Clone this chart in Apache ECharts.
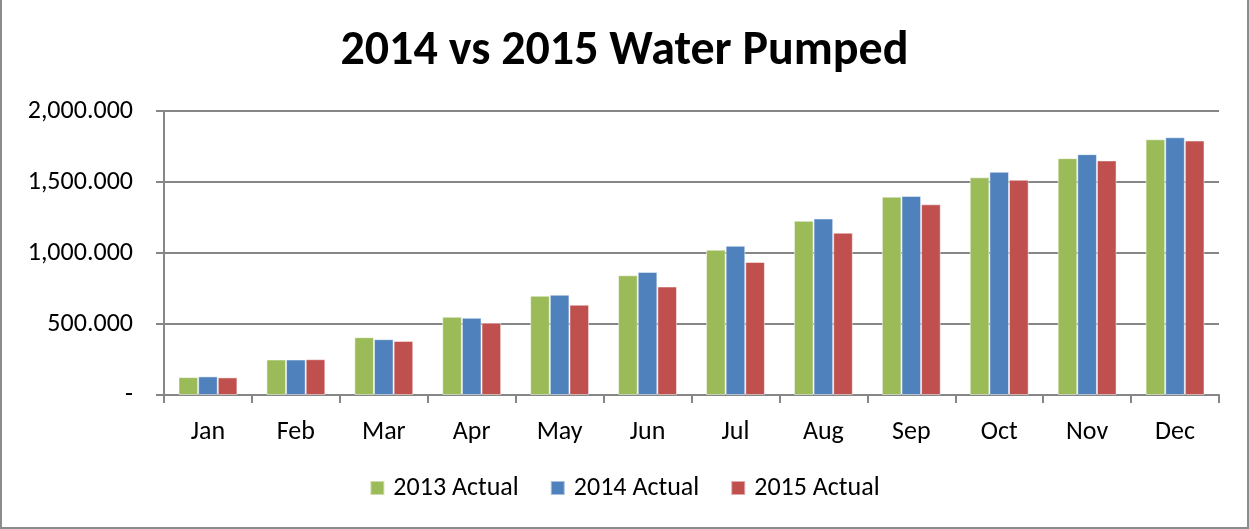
<!DOCTYPE html>
<html lang="en">
<head>
    <meta charset="UTF-8">
    <title>2014 vs 2015 Water Pumped</title>
    <script src="https://cdn.jsdelivr.net/npm/echarts@6/dist/echarts.min.js"></script>
    <style>
        body {
            margin: 0;
            padding: 0;
            background: #fff;
            overflow: hidden;
        }
        #chart {
            width: 1249px;
            height: 529px;
            box-sizing: border-box;
            border: 2px solid #8c8c8c;
            border-top: none;
        }
    </style>
</head>
<body>
<div id="chart"></div>

<script>
    // 数据
    const months = ['Jan', 'Feb', 'Mar', 'Apr', 'May', 'Jun', 'Jul', 'Aug', 'Sep', 'Oct', 'Nov', 'Dec'];
    const actual2013 = [126, 250, 407, 551, 699, 843, 1023, 1227, 1397, 1533, 1668, 1801];
    const actual2014 = [131, 250, 393, 544, 706, 867, 1051, 1243, 1402, 1572, 1696, 1815];
    const actual2015 = [124, 252, 381, 509, 636, 764, 937, 1143, 1343, 1516, 1652, 1792];
    const seriesNames = ['2013 Actual', '2014 Actual', '2015 Actual'];
    const colors = ['#9bbb59', '#4f81bd', '#c0504d'];

    const font = 'Carlito, Lato, "Open Sans", sans-serif';
    const chart = echarts.init(document.getElementById('chart'));

    function fmt(v) {
        if (v === 0) return '-';
        return v.toLocaleString('en-US', { minimumFractionDigits: 3, maximumFractionDigits: 3 });
    }

    const seriesData = [actual2013, actual2014, actual2015];

    chart.setOption({
        animation: false,
        color: colors,
        title: {
            text: '2014 vs 2015 Water Pumped',
            left: 'center',
            top: 23,
            textStyle: { fontFamily: font, fontSize: 48, fontWeight: 'bold', color: '#000' }
        },
        legend: {
            data: seriesNames,
            bottom: 21,
            left: 'center',
            itemWidth: 14,
            itemHeight: 14,
            itemGap: 31,
            icon: 'rect',
            textStyle: { fontFamily: font, fontSize: 26, color: '#000', padding: [0, 0, 0, 4] }
        },
        grid: { left: 162, right: 28, top: 111, bottom: 132 },
        xAxis: {
            type: 'category',
            data: months,
            axisLine: { lineStyle: { color: '#868686', width: 2 } },
            axisTick: { show: true, length: 8, lineStyle: { color: '#868686', width: 2 } },
            axisLabel: { fontFamily: font, fontSize: 26, color: '#000', margin: 24 }
        },
        yAxis: {
            type: 'value',
            min: 0,
            max: 2000,
            interval: 500,
            axisLine: { show: true, lineStyle: { color: '#868686', width: 2 } },
            axisTick: { show: true, length: 8, lineStyle: { color: '#868686', width: 2 } },
            splitLine: { lineStyle: { color: '#868686', width: 2 } },
            axisLabel: { fontFamily: font, fontSize: 26, color: '#000', margin: 31, formatter: fmt }
        },
        series: seriesNames.map((name, i) => ({
            name: name,
            type: 'bar',
            data: seriesData[i],
            barGap: '0%',
            barCategoryGap: '33%',
            itemStyle: { borderColor: 'rgba(255,255,255,0.5)', borderWidth: 1 }
        }))
    });
</script>
</body>
</html>
